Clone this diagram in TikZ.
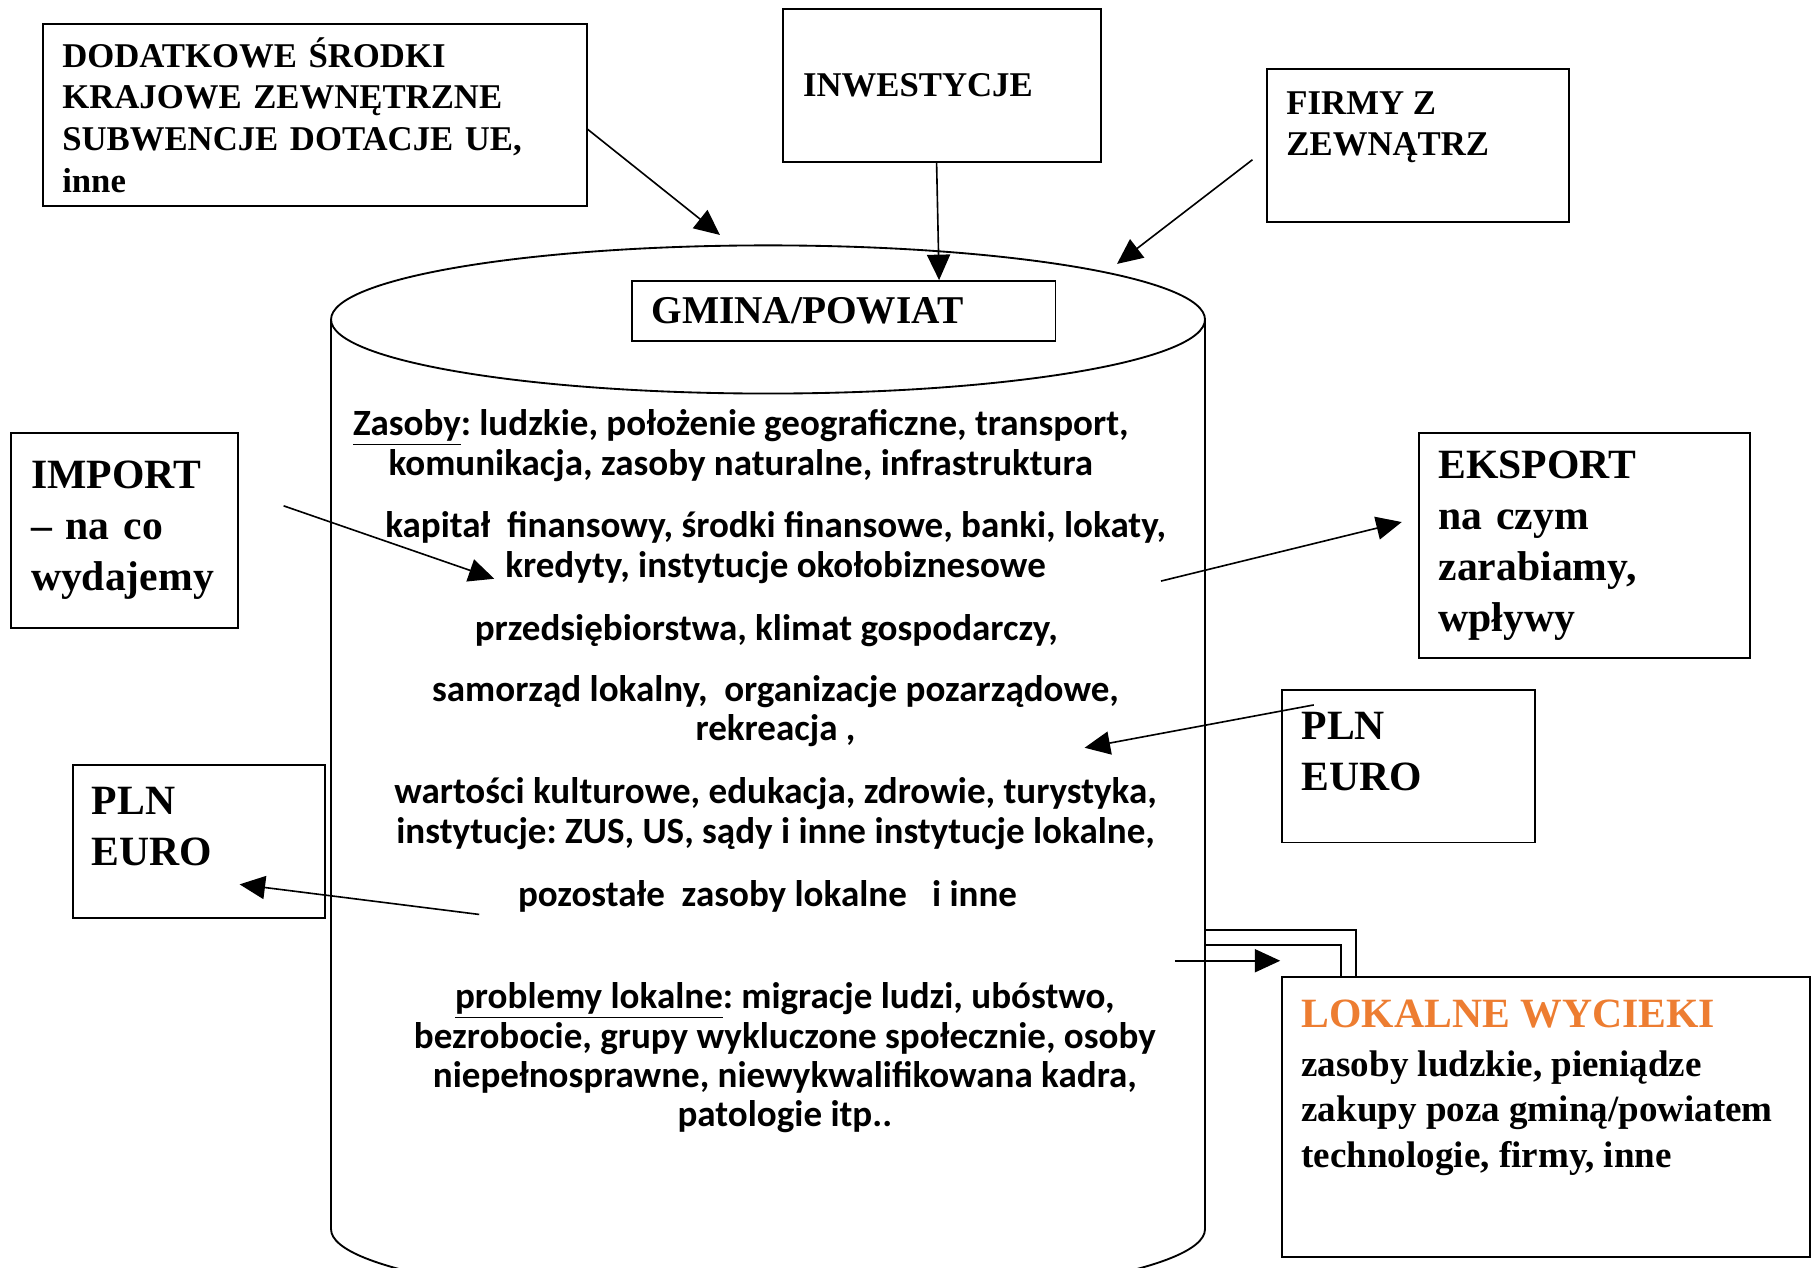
\documentclass[tikz,border=0pt]{standalone}
\usepackage{fontspec}
\setmainfont{Liberation Serif}
\newfontfamily\calibri{Carlito}
\frenchspacing
\usetikzlibrary{arrows.meta}
\definecolor{wyciek}{HTML}{ED7D31}
\tikzset{
  box/.style={draw,line width=.8pt,anchor=north west,align=left,inner xsep=8.5pt,font=\bfseries\fontsize{15}{18}\selectfont},
  big/.style={font=\bfseries\fontsize{18}{22}\selectfont},
  lbl/.style={anchor=north west,align=left,inner xsep=8.5pt,inner ysep=10pt,font=\bfseries\fontsize{15}{17.5}\selectfont},
  res/.style={align=center,font=\calibri\bfseries\fontsize{16}{17}\selectfont},
  flow/.style={line width=.7pt,-{Triangle[length=11pt,width=10pt]}}
}
\begin{document}
\begin{tikzpicture}[x=0.5pt,y=-0.5pt]
  \clip (0,0) rectangle (1568,1095);
  %Cylinder
  \draw[line width=.8pt] (663.5,276) ellipse [x radius=377.5,y radius=64];
  \draw[line width=.8pt] (286,276) -- (286,1062) arc[start angle=180,end angle=0,x radius=377.5,y radius=64] -- (1041,276);

  %Boxes outside
  \node[box,minimum width=235pt,minimum height=78.5pt,text width=218pt] (dod) at (36,20) {DODATKOWE ŚRODKI\\KRAJOWE ZEWNĘTRZNE\\SUBWENCJE DOTACJE UE,\\inne};
  \node[box,minimum width=137pt,minimum height=66pt,text width=120pt] (inw) at (676,7) {INWESTYCJE};
  \node[box,minimum width=130.5pt,minimum height=66pt,label={[lbl]north west:{FIRMY Z\\ZEWNĄTRZ}}] (firmy) at (1094,59) {};
  \node[box,big,minimum width=98pt,minimum height=84.5pt,text width=81pt] (imp) at (9,373) {IMPORT\\– na co\\wydajemy};
  \node[box,big,minimum width=143pt,minimum height=97.5pt,text width=126pt] (eks) at (1225,373) {EKSPORT\\na czym\\zarabiamy,\\wpływy};
  \node[box,minimum width=109pt,minimum height=66pt,label={[lbl,big]north west:{PLN\\EURO}}] (plnR) at (1107,595) {};
  \node[box,minimum width=109pt,minimum height=66pt,label={[lbl,big]north west:{PLN\\EURO}}] (plnL) at (62,660) {};
  \node[box,minimum width=228pt,minimum height=121pt,label={[lbl,font=\bfseries\fontsize{16}{19.5}\selectfont]north west:{{\fontsize{18}{19}\selectfont\color{wyciek}LOKALNE WYCIEKI}\\[2pt]zasoby ludzkie, pieniądze\\zakupy poza gminą/powiatem\\technologie, firmy, inne}}] (wyc) at (1107,843) {};

  %Gmina
  \node[box,fill=white,minimum width=183pt,minimum height=26pt,text width=166pt,font=\bfseries\fontsize{17}{20}\selectfont] (gmina) at (545,242) {GMINA/POWIAT};
  \node[res] (zasoby) at (640,385) {\underline{Zasoby}: ludzkie, położenie geograficzne, transport,\\komunikacja, zasoby naturalne, infrastruktura};
  \node[res] (kapital) at (670,473) {kapitał~ finansowy, środki finansowe, banki, lokaty,\\kredyty, instytucje okołobiznesowe};
  \node[res] (przeds) at (662,545) {przedsiębiorstwa, klimat gospodarczy,};
  \node[res] (samorzad) at (670,614.5) {samorząd lokalny,~ organizacje pozarządowe,\\rekreacja ,};
  \node[res] (wartosci) at (670,703) {wartości kulturowe, edukacja, zdrowie, turystyka,\\instytucje: ZUS, US, sądy i inne instytucje lokalne,};
  \node[res] (pozost) at (663,774) {pozostałe~ zasoby lokalne~~ i inne};
  \node[res] (problemy) at (678,914) {\underline{problemy lokalne}: migracje ludzi, ubóstwo,\\bezrobocie, grupy wykluczone społecznie, osoby\\niepełnosprawne, niewykwalifikowana kadra,\\patologie itp..};

  %Flows
  \coordinate (dodIn) at (622,203);
  \coordinate (firmyOut) at (1082,138);
  \coordinate (firmyIn) at (965,228);
  \coordinate (impOut) at (245,437);
  \coordinate (impIn) at (427,500);
  \coordinate (eksOut) at (1003,502);
  \coordinate (eksIn) at (1211,451);
  \coordinate (plnRout) at (1135,609);
  \coordinate (plnRin) at (937,646);
  \coordinate (plnLout) at (414,790);
  \coordinate (plnLin) at (207,764);
  \coordinate (wycOut) at (1015,830);
  \coordinate (wycIn) at (1106,830);
  \coordinate (cylR) at (1042,810);
  \draw[flow] (dod.-3.3) -- (dodIn);
  \draw[flow] (inw.-94) -- (gmina.18.4);
  \draw[flow] (firmyOut) -- (firmyIn);
  \draw[flow] (impOut) -- (impIn);
  \draw[flow] (eksOut) -- (eksIn);
  \draw[flow] (plnRout) -- (plnRin);
  \draw[flow] (plnLout) -- (plnLin);
  \draw[flow] (wycOut) -- (wycIn);
  \draw[line width=.8pt,double,double distance=5.6pt] (cylR) -| ([xshift=29pt]wyc.north west);
\end{tikzpicture}
\end{document}
